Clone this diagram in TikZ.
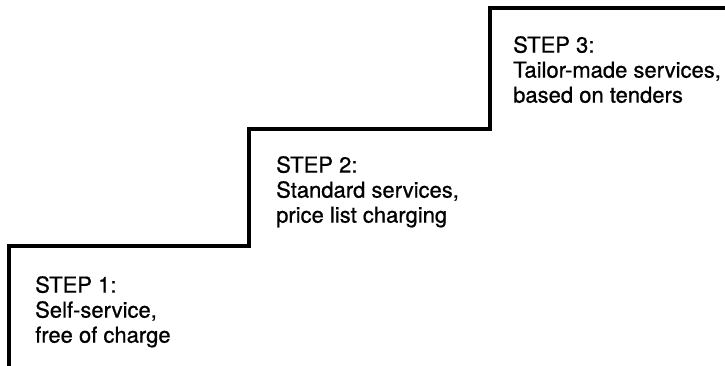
\documentclass[tikz,border=0pt]{standalone}
\usepackage{fontspec}
\setmainfont{TeX Gyre Heros}[FakeBold=0.8]
\begin{document}
\begin{tikzpicture}[x=1pt,y=-1pt,
  stair/.style={line width=4pt, line join=miter, black},
  steptext/.style={anchor=north west, inner sep=0pt, align=left,
    font=\fontsize{22}{25}\selectfont}]
\useasboundingbox[fill=white] (0,0) rectangle (725,365);
\coordinate (s0) at (9,367);
\coordinate (s1) at (9,246);
\coordinate (s2) at (249,246);
\coordinate (s3) at (249,129);
\coordinate (s4) at (490,129);
\coordinate (s5) at (490,8);
\coordinate (s6) at (727,8);
\draw[stair] (s0) -- (s1) -- (s2) -- (s3) -- (s4) -- (s5) -- (s6);
\node[steptext] (t1) at (35,276) {STEP 1:\\Self-service,\\free of charge};
\node[steptext] (t2) at (276,156) {STEP 2:\\Standard services,\\price list charging};
\node[steptext] (t3) at (513,36) {STEP 3:\\Tailor-made services,\\based on tenders};
\end{tikzpicture}
\end{document}
